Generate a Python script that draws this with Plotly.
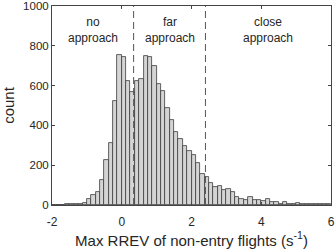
import numpy as np
import plotly.graph_objects as go

# Histogram of max RREV of non-entry flights
bin_start = -2.0
bin_width = 0.125
counts = [2, 2, 2, 3, 3, 3, 4,
          8, 30, 50, 63, 125, 225, 312, 522,
          753, 745, 622, 570, 625, 633, 747, 742,
          697, 608, 572, 487, 425, 367, 333, 297,
          272, 253, 212, 158, 142, 113, 88, 93,
          75, 78, 67, 42, 30, 25, 40, 27,
          25, 20, 28, 15, 15, 7, 15, 7,
          5, 10, 5, 5, 7, 3, 3, 3, 7]

thresholds = [0.34, 2.4]
region_labels = ["no<br>approach", "far<br>approach", "close<br>approach"]
x_ticks = [-2, 0, 2, 4, 6]
y_ticks = [0, 200, 400, 600, 800, 1000]
x_range = [-2, 6]
y_range = [0, 1000]

centers = bin_start + bin_width * (np.arange(len(counts)) + 0.5)

txt = "#262626"
axc = "#444444"

fig = go.Figure()
fig.add_trace(go.Bar(
    x=centers, y=counts, width=bin_width,
    marker=dict(color="#d4d4d4", line=dict(color="#3c3c3c", width=0.8)),
    hoverinfo="skip",
))

for t in thresholds:
    fig.add_shape(type="line", xref="x", yref="paper", x0=t, x1=t, y0=0, y1=1,
                  line=dict(color="#555555", width=1, dash="7px,4px"))

bounds = [x_range[0]] + thresholds + [x_range[1]]
for i, lab in enumerate(region_labels):
    fig.add_annotation(x=(bounds[i] + bounds[i + 1]) / 2, y=877, xref="x", yref="y",
                       text=lab, showarrow=False, align="center",
                       font=dict(family="Liberation Sans, Arial", size=12, color=txt))

fig.update_layout(
    width=335, height=252,
    margin=dict(l=52, r=4, t=6, b=47, autoexpand=False),
    paper_bgcolor="white", plot_bgcolor="white",
    bargap=0, showlegend=False,
    font=dict(family="Liberation Sans, Arial", size=12, color=txt),
)
fig.update_xaxes(
    range=x_range, tickvals=x_ticks, ticktext=[str(v) for v in x_ticks],
    showgrid=False, zeroline=False, showline=True, linecolor=axc, linewidth=1,
    mirror="ticks", ticks="inside", ticklen=3, tickcolor=axc,
    tickfont=dict(size=12, color=txt), automargin=False,
    ticklabeloverflow="allow", ticklabelstandoff=6,
    title=dict(text="Max RREV of non-entry flights (s<sup>-1</sup>)",
               font=dict(size=15, color=txt), standoff=6),
)
fig.update_yaxes(
    range=y_range, tickvals=y_ticks,
    showgrid=False, zeroline=False, showline=True, linecolor=axc, linewidth=1,
    mirror="ticks", ticks="inside", ticklen=3, tickcolor=axc,
    tickfont=dict(size=11.5, color=txt), automargin=False,
    ticklabeloverflow="allow",
    title=dict(text="count", font=dict(size=15, color=txt), standoff=8),
)

fig.write_html("out.html", config={"displayModeBar": False},
               post_script="document.body.style.margin='0';document.body.style.padding='0';")
